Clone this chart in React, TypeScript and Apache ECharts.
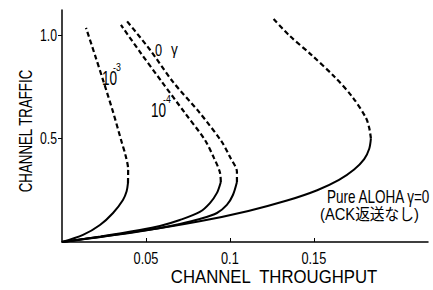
import React, { useEffect, useRef } from "react";
import * as echarts from "echarts";

// Axis ticks
const xTicks = [0.05, 0.1, 0.15];
const xTickLabels = ["0.05", "0.1", "0.15"];
const yTicks = [0.5, 1.0];
const yTickLabels = ["0.5", "1.0"];

// Pure ALOHA γ=0 (ACK返送なし)
const alohaSolidX = [0, 0.045, 0.082, 0.111, 0.134, 0.152, 0.165, 0.174, 0.18, 0.183, 0.184];
const alohaSolidY = [0, 0.05, 0.1, 0.15, 0.2, 0.25, 0.3, 0.35, 0.4, 0.45, 0.5];
const alohaDashX = [0.184, 0.183, 0.181, 0.173, 0.162, 0.149, 0.135, 0.126];
const alohaDashY = [0.5, 0.55, 0.6, 0.7, 0.8, 0.9, 1.0, 1.077];

// curve labelled "0 γ"
const zeroSolidX = [0, 0.023, 0.0464, 0.0583, 0.0702, 0.0821, 0.0923, 0.0982, 0.1018, 0.1042];
const zeroSolidY = [0, 0.025, 0.053, 0.068, 0.087, 0.111, 0.14, 0.179, 0.227, 0.29];
const zeroDashX = [0.1042, 0.1042, 0.1, 0.0952, 0.0821, 0.0661, 0.0524, 0.0381];
const zeroDashY = [0.29, 0.338, 0.411, 0.483, 0.623, 0.773, 0.928, 1.072];

// curve labelled 10^-4
const e4SolidX = [0, 0.023, 0.0464, 0.0583, 0.0702, 0.0821, 0.0881, 0.0923, 0.0946];
const e4SolidY = [0, 0.027, 0.058, 0.077, 0.106, 0.145, 0.188, 0.237, 0.29];
const e4DashX = [0.0946, 0.094, 0.0905, 0.0851, 0.0732, 0.0595, 0.0464, 0.0351];
const e4DashY = [0.29, 0.338, 0.406, 0.493, 0.623, 0.773, 0.918, 1.048];

// curve labelled 10^-3
const e3SolidX = [0, 0.0125, 0.0226, 0.0304, 0.0363, 0.0385, 0.0393];
const e3SolidY = [0, 0.034, 0.082, 0.14, 0.203, 0.245, 0.285];
const e3DashX = [0.0393, 0.0394, 0.0378, 0.0357, 0.0304, 0.0244, 0.0196, 0.0143];
const e3DashY = [0.285, 0.35, 0.42, 0.478, 0.628, 0.783, 0.903, 1.034];

const FONT = "'Liberation Sans', 'Noto Sans CJK JP', sans-serif";

const zip = (xs: number[], ys: number[]) => xs.map((x, i) => [x, ys[i]]);

const solid = (name: string, xs: number[], ys: number[]) => ({
  name,
  type: "line",
  data: zip(xs, ys),
  showSymbol: false,
  smooth: 0.3,
  lineStyle: { color: "#000", width: 2, type: "solid" },
});
const dashed = (name: string, xs: number[], ys: number[]) => ({
  name,
  type: "line",
  data: zip(xs, ys),
  showSymbol: false,
  smooth: 0.3,
  lineStyle: { color: "#000", width: 2.2, type: [5, 3] },
});

export default function App() {
  const ref = useRef<HTMLDivElement>(null);
  useEffect(() => {
    if (!ref.current) return;
    const chart = echarts.init(ref.current, undefined, { renderer: "svg" });
    const txt = (text: string, x: number, y: number, size: number, sx: number, extra: any = {}) => ({
      type: "text",
      x,
      y,
      scaleX: sx,
      rotation: extra.rotation || 0,
      style: {
        text,
        fill: "#000",
        font: `${size}px ${FONT}`,
        textAlign: extra.align || "left",
        textVerticalAlign: extra.valign || "top",
      },
    });
    chart.setOption({
      animation: false,
      backgroundColor: "#fff",
      grid: { left: 62, top: 10, width: 366, height: 232 },
      xAxis: {
        type: "value",
        min: 0,
        max: 0.218,
        axisLine: { lineStyle: { color: "#000", width: 1.5 } },
        splitLine: { show: false },
        axisTick: {
          inside: true,
          length: 4,
          customValues: xTicks,
          lineStyle: { color: "#000" },
        },
        axisLabel: { show: false },
      },
      yAxis: {
        type: "value",
        min: 0,
        max: 1.12,
        axisLine: { show: true, lineStyle: { color: "#000", width: 1.5 } },
        splitLine: { show: false },
        axisTick: {
          show: true,
          length: 4,
          customValues: yTicks,
          lineStyle: { color: "#000" },
        },
        axisLabel: { show: false },
      },
      series: [
        solid("aloha", alohaSolidX, alohaSolidY),
        dashed("aloha-d", alohaDashX, alohaDashY),
        solid("zero", zeroSolidX, zeroSolidY),
        dashed("zero-d", zeroDashX, zeroDashY),
        solid("e4", e4SolidX, e4SolidY),
        dashed("e4-d", e4DashX, e4DashY),
        solid("e3", e3SolidX, e3SolidY),
        dashed("e3-d", e3DashX, e3DashY),
      ],
    });
    const px = (x: number, y: number) => chart.convertToPixel({ gridIndex: 0 }, [x, y]) as number[];
    const tickTexts: any[] = [];
    xTicks.forEach((t, i) => {
      const p = px(t, 0);
      tickTexts.push(txt(xTickLabels[i], p[0], p[1] + 7, 17, 0.75, { align: "center" }));
    });
    yTicks.forEach((t, i) => {
      const p = px(0, t);
      tickTexts.push(txt(yTickLabels[i], p[0] - 5, p[1], 17, 0.72, { align: "right", valign: "middle" }));
    });
    chart.setOption({
      graphic: [
        ...tickTexts,
        txt("10", 102, 69, 20, 0.68),
        txt("-3", 113, 62, 11, 0.8),
        txt("0", 155, 41, 17, 0.75),
        txt("γ", 171, 40, 17, 0.8),
        txt("10", 151, 101, 20, 0.68),
        txt("-4", 163, 94, 11, 0.8),
        txt("Pure ALOHA γ=0", 327, 188, 18, 0.75),
        txt("(ACK返送なし)", 320, 206, 16, 0.92),
        txt("CHANNEL  THROUGHPUT", 274, 277, 18, 0.93, { align: "center", valign: "middle" }),
        txt("CHANNEL TRAFFIC", 25, 131, 19, 0.7, { align: "center", valign: "middle", rotation: Math.PI / 2 }),
      ],
    });
    return () => chart.dispose();
  }, []);
  return (
    <div
      ref={ref}
      style={{ position: "fixed", left: 0, top: 0, width: 433, height: 290, background: "#fff" }}
    />
  );
}
